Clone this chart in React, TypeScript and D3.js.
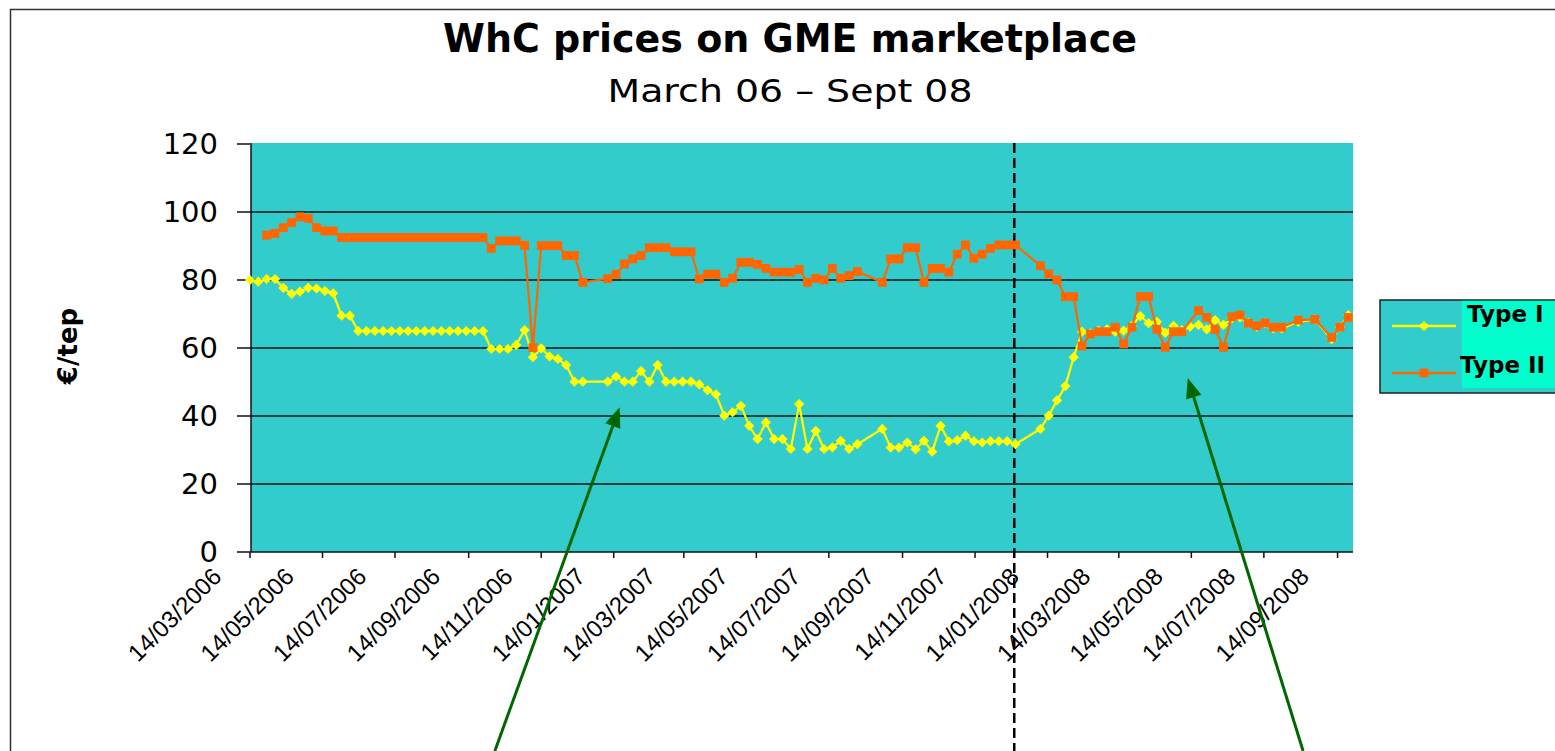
import * as d3 from "d3";

// weekly GME sessions (Type I dates; Type II missing where null)
const sessionDates = [
  "2006-03-14", "2006-03-21", "2006-03-28", "2006-04-04", "2006-04-11", "2006-04-18", "2006-04-25",
  "2006-05-02", "2006-05-09", "2006-05-16", "2006-05-23", "2006-05-30", "2006-06-06", "2006-06-13",
  "2006-06-20", "2006-06-27", "2006-07-04", "2006-07-11", "2006-07-18", "2006-07-25", "2006-08-01",
  "2006-08-08", "2006-08-15", "2006-08-22", "2006-08-29", "2006-09-05", "2006-09-12", "2006-09-19",
  "2006-09-26", "2006-10-03", "2006-10-10", "2006-10-17", "2006-10-24", "2006-10-31", "2006-11-07",
  "2006-11-14", "2006-11-21", "2006-11-28", "2006-12-05", "2006-12-12", "2006-12-19",
  "2007-01-09", "2007-01-16", "2007-01-23", "2007-01-30", "2007-02-06", "2007-02-13", "2007-02-20",
  "2007-02-27", "2007-03-06", "2007-03-13", "2007-03-20", "2007-03-27", "2007-04-03", "2007-04-10",
  "2007-04-17", "2007-04-24", "2007-05-01", "2007-05-08", "2007-05-15", "2007-05-22", "2007-05-29",
  "2007-06-05", "2007-06-12", "2007-06-19", "2007-06-26", "2007-07-03", "2007-07-10", "2007-07-17",
  "2007-07-24", "2007-07-31", "2007-08-07",
  "2007-08-28", "2007-09-04", "2007-09-11", "2007-09-18", "2007-09-25", "2007-10-02", "2007-10-09",
  "2007-10-16", "2007-10-23", "2007-10-30", "2007-11-06", "2007-11-13", "2007-11-20", "2007-11-27",
  "2007-12-04", "2007-12-11", "2007-12-18",
  "2008-01-08", "2008-01-15", "2008-01-22", "2008-01-29", "2008-02-05", "2008-02-12", "2008-02-19",
  "2008-02-26", "2008-03-04", "2008-03-11", "2008-03-18", "2008-03-25", "2008-04-01", "2008-04-08",
  "2008-04-15", "2008-04-22", "2008-04-29", "2008-05-06", "2008-05-13", "2008-05-20", "2008-05-27",
  "2008-06-03", "2008-06-10", "2008-06-17", "2008-06-24", "2008-07-01", "2008-07-08", "2008-07-15",
  "2008-07-22", "2008-07-29",
  "2008-08-12", "2008-08-26", "2008-09-09", "2008-09-16", "2008-09-23",
];

const typeIValues = [
  80, 79.5, 80.3, 80.3, 77.7, 75.9, 76.6, 77.7, 77.5, 76.8, 76.1, 69.5, 69.5,
  65, 65, 65, 65, 65, 65, 65, 65, 65, 65, 65, 65, 65, 65, 65, 65,
  59.7, 59.7, 59.7, 60.9, 65.3, 57.3, 59.9, 57.5, 56.8, 55, 50.1, 50.1,
  50.1, 51.6, 50.1, 50.1, 53.2, 50.1, 55, 50.1, 50.1, 50.1, 50.1, 49.3, 47.6, 46.4, 40.1, 41.1,
  43, 37.1, 33.2, 38.1, 33.2, 33.2, 30.3, 43.5, 30.3, 35.6, 30.3, 30.8, 32.7, 30.3, 31.7,
  36.2, 30.7, 30.7, 32.2, 30.2, 32.7, 29.5, 37.1, 32.5, 32.9, 34.2, 32.6, 32.2, 32.6, 32.6, 32.6, 31.7,
  36.2, 40.1, 44.6, 48.8, 57.3, 64.8, 64.3, 65.1, 65.5, 64.8, 65.1, 66.5, 69.4, 67.3, 67.7,
  64.5, 66.5, 65.3, 66.3, 66.8, 65.5, 68.2, 66.8, 68.7, 69, 67.4, 66.3, 67.3, 65.8, 65.8,
  67.7, 68.4, 62.6, 66.1, 69.7,
];

const typeIIValues = [
  null, null, 93.2, 93.7, 95.4, 96.9, 98.6, 98.1, 95.4, 94.4, 94.4,
  92.5, 92.5, 92.5, 92.5, 92.5, 92.5, 92.5, 92.5, 92.5, 92.5, 92.5, 92.5, 92.5, 92.5, 92.5, 92.5, 92.5, 92.5,
  89.3, 91.5, 91.5, 91.5, 90.2, 60.1, 90.1, 90.1, 90.1, 87.2, 87.2, 79.3,
  80.4, 81.7, 84.7, 86.2, 87.2, 89.5, 89.5, 89.5, 88.3, 88.3, 88.3, 80.3, 81.7, 81.7, 79.3, 80.5,
  85.2, 85.2, 84.6, 83.4, 82.3, 82.3, 82.3, 83.1, 79.3, 80.5, 80, 83.4, 80.5, 81.3, 82.5,
  79.3, 86.2, 86.2, 89.5, 89.5, 79.3, 83.4, 83.4, 82.3, 87.6, 90.3, 86.4, 87.6, 89.3, 90.3, 90.3, 90.3,
  84.2, 81.8, 80, 75.1, 75.1, 60.6, 64.1, 64.8, 64.8, 66.1, 61.2, 66.1, 75.1, 75.1, 65.5,
  60.2, 64.8, 64.8, null, 71, 69, 65.5, 60.2, 69.2, 69.7, 67.3, 66.5, 67.4, 66.1, 66.1,
  68.2, 68.4, 63.1, 66.1, 69,
];

const yTicks = [0, 20, 40, 60, 80, 100, 120];
const xTickLabels = [
  "14/03/2006", "14/05/2006", "14/07/2006", "14/09/2006", "14/11/2006",
  "14/01/2007", "14/03/2007", "14/05/2007", "14/07/2007", "14/09/2007", "14/11/2007",
  "14/01/2008", "14/03/2008", "14/05/2008", "14/07/2008", "14/09/2008",
];
const axisStart = "2006-03-14";
const axisEnd = "2008-09-27";
const cutoffDate = "2007-12-17";
// annotation arrows: [tail date, tail value, tip date, tip value]
const arrows: [string, number, string, number][] = [
  ["2006-10-06", -58.5, "2007-01-19", 42.6],
  ["2008-08-16", -58.5, "2008-05-11", 51.2],
];

const W = 1555;
const H = 751;
const plot = { left: 250, right: 1353, top: 143, bottom: 552 };

const TEAL = "#33CCCC";
const YELLOW = "#FFFF00";
const ORANGE = "#FF6600";
const GREEN = "#006600";

const parse = d3.timeParse("%Y-%m-%d");
const parseLabel = d3.timeParse("%d/%m/%Y");

type Pt = { date: Date; value: number };

export default function App() {
  const x = d3
    .scaleTime()
    .domain([parse(axisStart)!, parse(axisEnd)!])
    .range([plot.left, plot.right]);
  const y = d3.scaleLinear().domain([0, 120]).range([plot.bottom, 144]);

  const toPts = (vals: (number | null)[]): Pt[] =>
    sessionDates
      .map((d, i) => ({ date: parse(d)!, value: vals[i] as number }))
      .filter((p) => p.value != null);

  const typeI = toPts(typeIValues);
  const typeII = toPts(typeIIValues);

  const line = d3
    .line<Pt>()
    .x((d) => x(d.date))
    .y((d) => y(d.value));

  const diamond = d3.symbol().type(d3.symbolSquare).size(52)()!;
  const square = d3.symbol().type(d3.symbolSquare).size(78)()!;

  const cutX = x(parse(cutoffDate)!);
  const font = "'DejaVu Sans', Verdana, sans-serif";
  const arial = "'Liberation Sans', Arial, sans-serif";

  return (
    <svg
      width={W}
      height={H}
      style={{ position: "absolute", left: 0, top: 0, background: "#fff" }}
    >
      {/* outer frame */}
      <path d={`M10.5,${H} V9.5 H${W}`} fill="none" stroke="#333" strokeWidth={1.5} />

      {/* titles */}
      <text
        x={790}
        y={52}
        textAnchor="middle"
        fontFamily={font}
        fontWeight="bold"
        fontSize={39}
        textLength={694}
        lengthAdjust="spacingAndGlyphs"
      >
        WhC prices on GME marketplace
      </text>
      <text
        x={790}
        y={102}
        textAnchor="middle"
        fontFamily={font}
        fontSize={32}
        textLength={365}
        lengthAdjust="spacingAndGlyphs"
      >
        March 06 – Sept 08
      </text>

      {/* plot area */}
      <rect
        x={plot.left + 1}
        y={plot.top}
        width={plot.right - plot.left - 1}
        height={plot.bottom - plot.top}
        fill={TEAL}
      />
      {yTicks
        .filter((t) => t > 0 && t < 120)
        .map((t) => (
          <line
            key={`g${t}`}
            x1={plot.left}
            x2={plot.right}
            y1={y(t)}
            y2={y(t)}
            stroke="#111"
            strokeWidth={1.5}
          />
        ))}

      {/* y axis */}
      <line x1={plot.left + 1} x2={plot.left + 1} y1={plot.top} y2={plot.bottom} stroke="#111" strokeWidth={1.5} />
      {yTicks.map((t) => (
        <g key={`y${t}`}>
          <line x1={237} x2={plot.left} y1={y(t)} y2={y(t)} stroke="#111" strokeWidth={1.5} />
          <text
            x={218}
            y={y(t)}
            dy="0.36em"
            textAnchor="end"
            fontFamily={font}
            fontSize={29}
          >
            {t}
          </text>
        </g>
      ))}
      <text
        transform="translate(77,346) rotate(-90)"
        textAnchor="middle"
        fontFamily={font}
        fontWeight="bold"
        fontSize={26}
      >
        €/tep
      </text>

      {/* x axis */}
      <line x1={plot.left} x2={plot.right} y1={plot.bottom} y2={plot.bottom} stroke="#111" strokeWidth={1.5} />
      {xTickLabels.map((lab) => {
        const tx = x(parseLabel(lab)!);
        return (
          <g key={lab}>
            <line x1={tx} x2={tx} y1={plot.bottom} y2={plot.bottom + 6} stroke="#111" strokeWidth={1.5} />
            <text
              transform={`translate(${tx - 27},${plot.bottom + 26}) rotate(-45)`}
              textAnchor="end"
              fontFamily={arial}
              fontSize={24}
            >
              {lab}
            </text>
          </g>
        );
      })}

      {/* cut-off line */}
      <line
        x1={cutX}
        x2={cutX}
        y1={plot.top}
        y2={H}
        stroke="#000"
        strokeWidth={2.5}
        strokeDasharray="10 5"
      />

      {/* series */}
      <path d={line(typeI)!} fill="none" stroke={YELLOW} strokeWidth={2.2} />
      {typeI.map((p, i) => (
        <path
          key={`a${i}`}
          d={diamond}
          transform={`translate(${x(p.date)},${y(p.value)}) rotate(45)`}
          fill={YELLOW}
        />
      ))}
      <path d={line(typeII)!} fill="none" stroke={ORANGE} strokeWidth={2.2} />
      {typeII.map((p, i) => (
        <path
          key={`b${i}`}
          d={square}
          transform={`translate(${x(p.date)},${y(p.value)})`}
          fill={ORANGE}
        />
      ))}

      {/* arrows */}
      {arrows.map(([d0, v0, d1, v1], i) => {
        const x0 = x(parse(d0)!);
        const y0 = y(v0);
        const x1 = x(parse(d1)!);
        const y1 = y(v1);
        const len = Math.hypot(x1 - x0, y1 - y0);
        const ux = (x1 - x0) / len;
        const uy = (y1 - y0) / len;
        const hl = 20;
        const hw = 8;
        const bx = x1 - ux * hl;
        const by = y1 - uy * hl;
        return (
          <g key={`ar${i}`}>
            <line x1={x0} y1={y0} x2={bx} y2={by} stroke={GREEN} strokeWidth={3} />
            <polygon
              points={`${x1},${y1} ${bx - uy * hw},${by + ux * hw} ${bx + uy * hw},${by - ux * hw}`}
              fill={GREEN}
            />
          </g>
        );
      })}

      {/* legend */}
      <rect x={1380} y={300} width={200} height={93} fill={TEAL} stroke="#222" strokeWidth={1.5} />
      <rect x={1462} y={300.8} width={95} height={87} fill="#00FFCC" />
      <line x1={1392} x2={1456} y1={326} y2={326} stroke={YELLOW} strokeWidth={2.5} />
      <path d={diamond} transform="translate(1424,326) rotate(45)" fill={YELLOW} />
      <line x1={1392} x2={1456} y1={373} y2={373} stroke={ORANGE} strokeWidth={2.5} />
      <path d={square} transform="translate(1424,373)" fill={ORANGE} />
      <text x={1467} y={322} fontFamily={font} fontWeight="bold" fontSize={23}>
        Type I
      </text>
      <text x={1460} y={373} fontFamily={font} fontWeight="bold" fontSize={23}>
        Type II
      </text>
    </svg>
  );
}
